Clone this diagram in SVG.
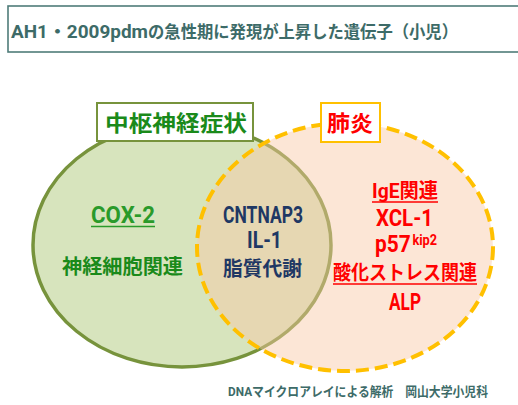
<svg xmlns="http://www.w3.org/2000/svg" width="518" height="405" viewBox="0 0 518 405">
<style>
text{font-family:Roboto,"Noto Sans CJK JP",sans-serif;font-weight:bold}
.jp{font-family:"Noto Sans CJK JP",sans-serif}
.teal{fill:#3D6B68}
.grn{fill:#1A8A1A}
.grn2{fill:#2A9A2A}
.navy{fill:#1F3864}
.red{fill:#FF0000}
.lat{font-size:23px}
.cj{font-size:20px}
</style>
<rect width="518" height="405" fill="#FFFFFF"/>
<g id="title">
<rect x="8" y="6" width="520" height="46" fill="#FFFFFF" stroke="#4F7C79" stroke-width="1.6"/>
<text class="teal" x="11" y="38" font-size="18" textLength="137" lengthAdjust="spacingAndGlyphs">AH1・2009pdm</text>
<text class="teal jp" x="148" y="38" font-size="17" textLength="310" lengthAdjust="spacingAndGlyphs">の急性期に発現が上昇した遺伝子（小児）</text>
</g>
<g id="node-cns-shape">
<ellipse cx="182" cy="245" rx="149" ry="122" fill="#D7E4BD" stroke="#77933C" stroke-width="3.5"/>
</g>
<g id="node-pneumonia-shape">
<ellipse cx="345" cy="247" rx="148" ry="124" fill="#F9C7A4" fill-opacity="0.45" stroke="#FFC000" stroke-width="4" stroke-dasharray="13 6"/>
</g>
<g id="connectors"/>
<g id="node-cns">
<rect x="97" y="103" width="156" height="38" fill="#FFFFFF" stroke="#77933C" stroke-width="2"/>
<text class="grn jp" x="105" y="131" font-size="22" textLength="142" lengthAdjust="spacingAndGlyphs">中枢神経症状</text>
<text class="grn2 lat" x="91" y="223" textLength="64" lengthAdjust="spacingAndGlyphs">COX-2</text>
<line x1="91" y1="226.5" x2="155" y2="226.5" stroke="#2A9A2A" stroke-width="1.5"/>
<text class="grn jp cj" x="62" y="273.5" textLength="121" lengthAdjust="spacingAndGlyphs">神経細胞関連</text>
</g>
<g id="node-overlap">
<text class="navy lat" x="223" y="223" textLength="80" lengthAdjust="spacingAndGlyphs">CNTNAP3</text>
<text class="navy lat" x="247" y="248" textLength="35" lengthAdjust="spacingAndGlyphs">IL-1</text>
<text class="navy jp cj" x="223" y="276" textLength="79" lengthAdjust="spacingAndGlyphs">脂質代謝</text>
</g>
<g id="node-pneumonia">
<rect x="321" y="103" width="59" height="39" fill="#FFFFFF" stroke="#FFC000" stroke-width="2"/>
<text class="red jp" x="327" y="131" font-size="22" textLength="46" lengthAdjust="spacingAndGlyphs">肺炎</text>
<text class="red cj" x="372" y="198" textLength="66" lengthAdjust="spacingAndGlyphs">IgE関連</text>
<line x1="372" y1="202" x2="438" y2="202" stroke="#FF0000" stroke-width="1.5"/>
<text class="red lat" x="376" y="226" textLength="57" lengthAdjust="spacingAndGlyphs">XCL-1</text>
<text class="red lat" x="375" y="252" textLength="62" lengthAdjust="spacingAndGlyphs">p57<tspan font-size="14" dy="-7" dx="2">kip2</tspan></text>
<text class="red jp cj" x="333" y="280" textLength="144" lengthAdjust="spacingAndGlyphs">酸化ストレス関連</text>
<line x1="333" y1="284" x2="477" y2="284" stroke="#FF0000" stroke-width="1.5"/>
<text class="red lat" x="389" y="310" textLength="32" lengthAdjust="spacingAndGlyphs">ALP</text>
</g>
<g id="credit">
<text class="teal" x="228" y="396" font-size="13" textLength="260" lengthAdjust="spacingAndGlyphs">DNAマイクロアレイによる解析　岡山大学小児科</text>
</g>
</svg>
